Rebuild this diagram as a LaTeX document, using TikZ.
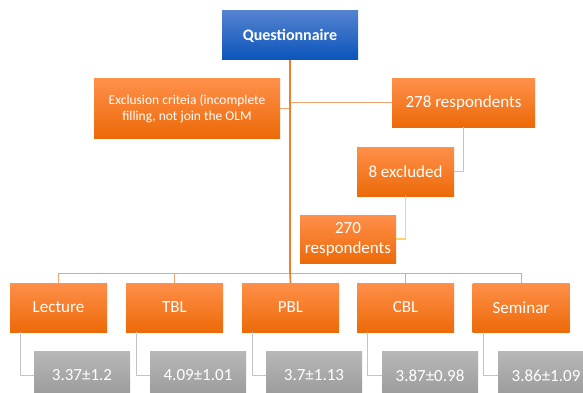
\documentclass[tikz,border=0pt]{standalone}
\usepackage{fontspec}
\setmainfont{Carlito}
\definecolor{otop}{HTML}{FF8F4A}
\definecolor{obot}{HTML}{EC6A08}
\definecolor{btop}{HTML}{5482D0}
\definecolor{bbot}{HTML}{0A54BA}
\definecolor{gtop}{HTML}{B8B8B8}
\definecolor{gbot}{HTML}{989898}
\definecolor{oline}{HTML}{ED7D31}
\definecolor{olight}{HTML}{F2A46E}
\definecolor{gline}{HTML}{C4C4C4}
\definecolor{yline}{HTML}{FFD26A}
\tikzset{
  obox/.style={shade, top color=otop, bottom color=obot, draw=none, text=white, align=center, inner sep=0pt, font=\fontsize{17}{19}\selectfont},
  bbox/.style={shade, top color=btop, bottom color=bbot, draw=none, text=white, align=center, inner sep=0pt, font=\fontsize{16}{18}\selectfont\bfseries},
  gbox/.style={shade, top color=gtop, bottom color=gbot, draw=none, text=white, align=center, inner sep=0pt, font=\fontsize{17}{19}\selectfont},
  mainline/.style={draw=oline, line width=1.6pt},
  thinorange/.style={draw=olight, line width=1pt},
  grayline/.style={draw=gline, line width=1.2pt},
  yellowline/.style={draw=yline, line width=1.2pt},
}
\begin{document}
\begin{tikzpicture}[x=1pt,y=-1pt]
\useasboundingbox (0,0) rectangle (583,393);
\clip (0,0) rectangle (583,393);
\fill[white] (0,0) rectangle (583,393);
% nodes
\node[bbox, minimum width=136pt, minimum height=49pt] (q) at (290,35.5) {Questionnaire};
\node[obox, minimum width=186pt, minimum height=59pt, font=\fontsize{13.5}{16}\selectfont] (excl) at (187,108.5) {Exclusion criteia (incomplete\\filling, not join the OLM};
\node[obox, minimum width=143pt, minimum height=48pt] (r278) at (463.5,103) {278 respondents};
\node[obox, minimum width=97pt, minimum height=49pt] (ex8) at (405.5,171.5) {8 excluded};
\node[obox, minimum width=96pt, minimum height=48pt, font=\fontsize{17}{20}\selectfont] (r270) at (348,239) {270\\respondents};
% bottom row
\foreach \n/\cx/\t in {lec/58.5/Lecture, tbl/174.5/TBL, pbl/290.5/PBL, cbl/405.5/CBL, sem/521/Seminar}{
  \node[obox, minimum width=97pt, minimum height=49pt] (\n) at (\cx,307.5) {\t};
}
\foreach \n/\cx/\t in {glec/82/3.37±1.2, gtbl/198/4.09±1.01, gpbl/314/3.7±1.13, gcbl/430/3.87±0.98, gsem/546/3.86±1.09}{
  \node[gbox, minimum width=96pt, minimum height=49pt] (\n) at (\cx,375.5) {\t};
}
% connectors
\coordinate (bus) at (290,273);
\coordinate (busL) at (58.5,273);
\coordinate (busR) at (521,273);
\draw[thinorange] (excl.east) -- (excl.east -| q.south);
\draw[thinorange] (r278.west -| q.south) -- (r278.west);
\draw[grayline] (r278.south) |- (ex8.east);
\draw[yellowline] (ex8.south) |- (r270.east);
\draw[thinorange] (busL) -- (busR);
\foreach \n in {lec,tbl,cbl,sem}{
  \draw[thinorange] (busL -| \n.north) -- (\n.north);
}
\draw[mainline] (q.south) -- (bus) -- (pbl.north);
\foreach \n/\g in {lec/glec, tbl/gtbl, pbl/gpbl, cbl/gcbl, sem/gsem}{
  \draw[grayline] ([xshift=11pt]\n.south west) |- (\g.west);
}
\end{tikzpicture}
\end{document}
